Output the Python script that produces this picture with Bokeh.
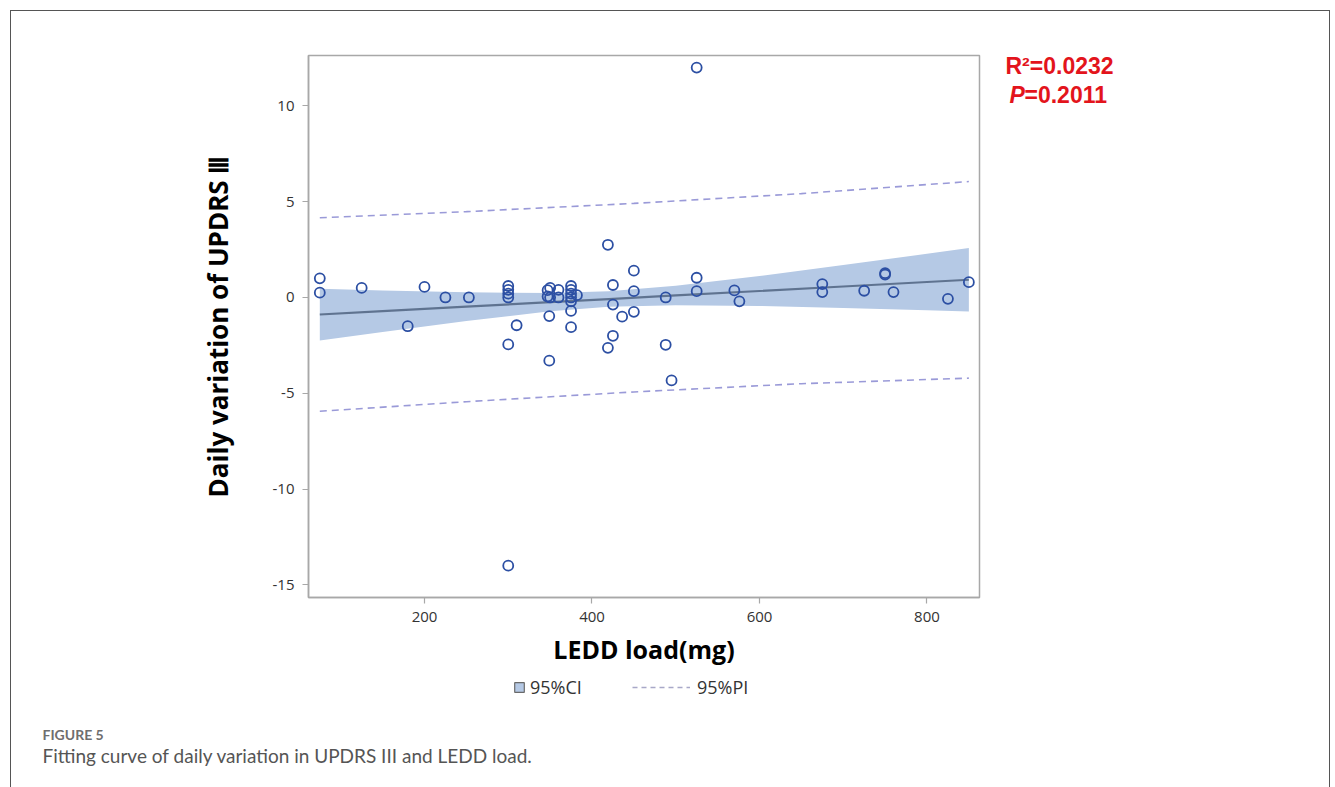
from bokeh.plotting import figure
from bokeh.models import Label, Legend, LegendItem, Range1d, FixedTicker
from bokeh.layouts import column, row
from bokeh.embed import file_html
from bokeh.resources import INLINE

# ---- data ----
ledd = [75, 75, 125, 180, 200, 225, 253, 300, 300, 300, 300, 300, 300, 310,
        347, 350, 360, 347, 350, 360, 349, 349, 375, 375, 375, 375, 375, 382,
        375, 375, 419, 425, 425, 436, 425, 419, 450, 450, 450, 488, 488,
        495, 525, 525, 525, 570, 576, 675, 675, 725, 750, 750, 760, 825, 850]
updrs = [1.0, 0.25, 0.5, -1.5, 0.55, 0.0, 0.0, 0.6, 0.4, 0.2, 0.0, -2.45, -14.0, -1.45,
         0.38, 0.5, 0.4, 0.05, 0.0, 0.0, -0.97, -3.3, 0.6, 0.4, 0.2, 0.0, -0.2, 0.12,
         -0.7, -1.55, 2.75, 0.65, -0.37, -1.0, -2.0, -2.63, 1.4, 0.33, -0.75, 0.0, -2.47,
         -4.33, 12.0, 1.03, 0.33, 0.37, -0.2, 0.7, 0.28, 0.35, 1.27, 1.2, 0.28, -0.07, 0.8]

fit_x = [75, 150, 250, 350, 420, 500, 600, 700, 800, 850]
fit_y = [-0.89, -0.714, -0.48, -0.246, -0.082, 0.105, 0.339, 0.573, 0.807, 0.924]
ci_upper = [0.46, 0.37, 0.27, 0.23, 0.32, 0.61, 1.12, 1.69, 2.28, 2.58]
ci_lower = [-2.24, -1.80, -1.23, -0.72, -0.48, -0.40, -0.44, -0.55, -0.67, -0.73]

pi_x = [75, 250, 450, 650, 850]
pi_upper = [4.16, 4.48, 4.91, 5.42, 6.05]
pi_lower = [-5.94, -5.44, -4.93, -4.50, -4.21]

x_ticks = [200, 400, 600, 800]
y_ticks = [-15, -10, -5, 0, 5, 10]

stat_r2 = "R\u00b2=0.0232"
stat_p = "=0.2011"
x_title = "LEDD load(mg)"
y_title = "Daily variation of UPDRS \u2162"
fig_tag = "FIGURE 5"
caption = "Fitting curve of daily variation in UPDRS III and LEDD load."
legend_ci = "95%CI"
legend_pi = "95%PI"

band_fill = "#b5c9e5"
pi_color = "#9a9ad8"
red = "#e3141c"

# ---- main plot: canvas starts at page (11, 11) ----
W1, H1 = 985, 665
p = figure(width=W1, height=H1, output_backend="svg", toolbar_location=None,
           x_range=Range1d(61.5, 862.7), y_range=Range1d(-15.66, 12.63),
           min_border_left=297, min_border_right=W1 + 11 - 979, min_border_top=44,
           min_border_bottom=H1 + 11 - 597)
p.grid.visible = False
p.outline_line_color = "#a8a8a8"
p.outline_line_width = 1.5

for ax in (p.xaxis[0], p.yaxis[0]):
    ax.axis_line_color = "#a8a8a8"
    ax.axis_line_width = 1.5
    ax.major_tick_line_color = "#a8a8a8"
    ax.major_tick_line_width = 1.2
    ax.major_tick_out = 6
    ax.major_tick_in = 0
    ax.minor_tick_line_color = None
    ax.major_label_text_font = "Open Sans"
    ax.major_label_text_font_size = "15px"
    ax.major_label_text_color = "#333333"
    ax.axis_label_text_font = "Open Sans"
    ax.axis_label_text_font_style = "bold"
    ax.axis_label_text_color = "#000000"

p.xaxis[0].ticker = FixedTicker(ticks=x_ticks)
p.yaxis[0].ticker = FixedTicker(ticks=y_ticks)
p.yaxis[0].major_label_overrides = {t: str(t) for t in y_ticks}
p.xaxis[0].axis_label = x_title
p.yaxis[0].axis_label = y_title
p.xaxis[0].axis_label_text_font_size = "25px"
p.yaxis[0].axis_label_text_font_size = "26px"
p.xaxis[0].axis_label_standoff = 7
p.yaxis[0].axis_label_standoff = 34
p.xaxis[0].major_label_standoff = 8
p.yaxis[0].major_label_standoff = 8

p.varea(x=fit_x, y1=ci_lower, y2=ci_upper, fill_color=band_fill, fill_alpha=1.0)
p.line(fit_x, fit_y, line_color="#5f7390", line_width=2.2)
p.line(pi_x, pi_upper, line_color=pi_color, line_width=1.6, line_dash="7 5")
p.line(pi_x, pi_lower, line_color=pi_color, line_width=1.6, line_dash="7 5")
p.scatter(ledd, updrs, marker="circle", size=10, fill_color=None,
          line_color="#2c4fa3", line_width=1.8)

# ---- right strip with the statistics (page x 996..1329) ----
# its frame is aligned with the main frame (page y 55..597), so y data = page y
W3 = 1318 - W1
p3 = figure(width=W3, height=H1, output_backend="svg", toolbar_location=None,
            x_range=Range1d(0, W3), y_range=Range1d(597, 55),
            x_axis_location=None, y_axis_location=None, min_border=0)
p3.grid.visible = False
p3.outline_line_color = None
stat_font = "Liberation Sans"
p3.add_layout(Label(x=9, y=65, text=stat_r2, text_font=stat_font,
                    text_font_style="bold", text_font_size="23px", text_color=red,
                    text_baseline="middle", text_align="left"))
p3.add_layout(Label(x=13, y=94, text="P", text_font=stat_font,
                    text_font_style="bold italic", text_font_size="23px", text_color=red,
                    text_baseline="middle", text_align="left"))
p3.add_layout(Label(x=28, y=94, text=stat_p, text_font=stat_font,
                    text_font_style="bold", text_font_size="23px", text_color=red,
                    text_baseline="middle", text_align="left"))

# ---- bottom strip with legend and caption (page y 676..787) ----
H2 = 776 - H1
p2 = figure(width=1318, height=H2, output_backend="svg", toolbar_location=None,
            x_range=Range1d(0, 1318), y_range=Range1d(H2, 0),
            x_axis_location=None, y_axis_location=None, min_border=0)
p2.grid.visible = False
p2.outline_line_color = None
# legend proxies placed outside the visible range
ci_proxy = p2.quad(left=[-60], right=[-50], top=[-60], bottom=[-50], fill_color=band_fill,
                   line_color="#6a6a6a", line_width=1.2)
pi_proxy = p2.line(x=[-60, -50], y=[-60, -60], line_color="#a8a8c8", line_width=1.5,
                   line_dash="5 4")

leg1 = Legend(items=[LegendItem(label=legend_ci, renderers=[ci_proxy])],
              location=(502, H2 - 23), orientation="horizontal",
              glyph_width=12, glyph_height=12, label_standoff=5,
              padding=0, margin=0, spacing=0,
              background_fill_alpha=0, border_line_color=None,
              label_text_font="Open Sans", label_text_font_size="18px",
              label_text_color="#333333")
leg2 = Legend(items=[LegendItem(label=legend_pi, renderers=[pi_proxy])],
              location=(621, H2 - 23), orientation="horizontal",
              glyph_width=58, glyph_height=12, label_standoff=7,
              padding=0, margin=0, spacing=0,
              background_fill_alpha=0, border_line_color=None,
              label_text_font="Open Sans", label_text_font_size="18px",
              label_text_color="#333333")
p2.add_layout(leg1)
p2.add_layout(leg2)
p2.add_layout(Label(x=31, y=58, text=fig_tag, text_font="Lato",
                    text_font_style="bold", text_font_size="14px", text_color="#6e6e6e",
                    text_baseline="middle", text_align="left"))
p2.add_layout(Label(x=31, y=79, text=caption, text_font="Lato",
                    text_font_size="19px", text_color="#555555",
                    text_baseline="middle", text_align="left"))

layout = column(row(p, p3, spacing=0), p2, spacing=0,
                styles={"margin-left": "10px", "margin-top": "10px",
                        "border-left": "1px solid #555", "border-top": "1px solid #555",
                        "border-right": "1px solid #555"})

open("out.html", "w").write(file_html(layout, INLINE))
